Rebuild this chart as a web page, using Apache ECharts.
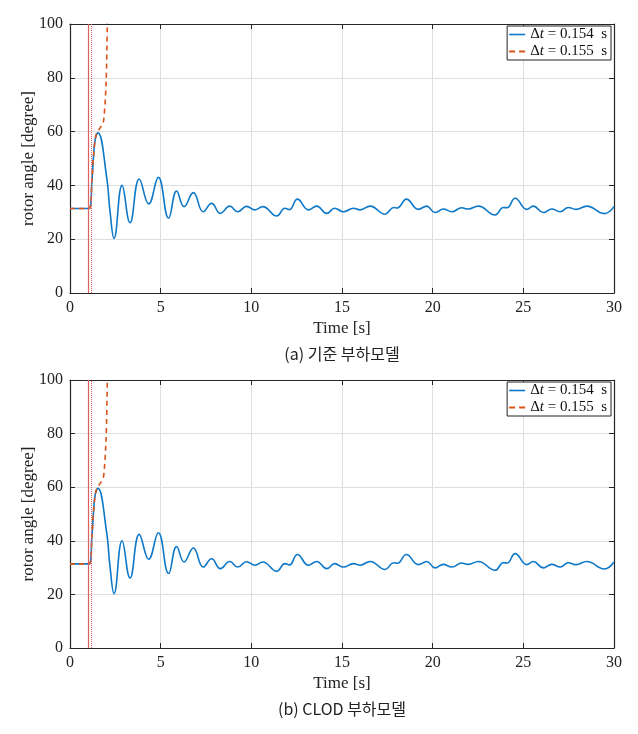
<!DOCTYPE html>
<html>
<head>
<meta charset="utf-8">
<script src="https://cdn.jsdelivr.net/npm/echarts@6/dist/echarts.min.js"></script>
<style>
  html, body { margin: 0; padding: 0; background: #fff; }
  #main { width: 638px; height: 734px; }
</style>
</head>
<body>
<div id="main"></div>
<script>
    var myChart = echarts.init(document.getElementById('main'));

    // 시간축 / 각도축 범위
    var xRange = [0, 30, 5];
    var yRange = [0, 100, 20];

    // 고장 발생 / 제거 시각
    var faultTimes = [1.0, 1.154];

    // dt = 0.154 s (안정)
    var stableT = [0, 1.06, 1.21, 1.31, 1.40, 1.54, 2.02, 2.2, 2.43, 2.87, 3.31, 3.82, 4.34, 4.87, 5.44, 5.88,
        6.29, 6.80, 7.35, 7.81, 8.29, 8.81, 9.25, 9.74, 10.2, 10.63, 11.4, 11.85, 12.1, 12.54, 13.15,
        13.6, 14.16, 14.6, 15.08, 15.63, 16.0, 16.55, 17.37, 17.85, 18.05, 18.55, 19.21, 19.67, 20.13,
        20.59, 21.05, 21.6, 21.95, 22.52, 23.44, 23.9, 24.1, 24.55, 25.19, 25.55, 26.1, 26.57, 27.03,
        27.48, 27.9, 28.5, 29.47, 30];
    var stableAngle = [31.4, 31.4, 42, 52, 57.5, 59.6, 43.2, 30.8, 20.3, 40.0, 26.1, 42.4, 33.1, 43.0, 27.8, 37.9,
        32.1, 37.3, 30.2, 33.3, 29.6, 32.3, 30.2, 32.2, 30.9, 32.1, 28.6, 31.5, 31.0, 34.9, 30.9,
        32.3, 29.6, 31.5, 30.2, 31.5, 30.9, 32.3, 29.3, 31.8, 31.6, 34.9, 31.1, 32.3, 29.9,
        31.2, 30.2, 31.7, 31.2, 32.3, 29.0, 31.8, 31.7, 35.2, 31.1, 32.3, 29.9, 31.2, 30.2,
        31.8, 31.1, 32.3, 29.5, 32.1];

    // dt = 0.155 s (탈조)
    var unstableT = [0, 1.06, 1.21, 1.31, 1.40, 1.5, 1.58, 1.76, 1.86, 1.99, 2.06, 2.1];
    var unstableAngle = [31.4, 31.4, 42, 52, 57.5, 60.0, 60.6, 62.5, 64.3, 78, 100, 112];

    var captions = ['(a) 기준 부하모델', '(b) CLOD 부하모델'];
    var names = ['0.154', '0.155'];

    function pairs(xs, ys) {
        return xs.map(function (x, i) { return [x, ys[i]]; });
    }

    var serif = 'Liberation Serif';
    var axisColor = '#262626';
    var blue = '#0d78c8';
    var orange = '#D95319';

    // 패널 위치
    var panels = [{ top: 24, height: 269 }, { top: 380, height: 268 }];

    var grids = [], xAxes = [], yAxes = [], series = [], legends = [], graphics = [];

    panels.forEach(function (p, k) {
        grids.push({ left: 70, width: 544, top: p.top, height: p.height });
        // 아래쪽 x축
        xAxes.push({
            gridIndex: k, type: 'value', min: xRange[0], max: xRange[1], interval: xRange[2],
            name: 'Time [s]', nameLocation: 'middle', nameGap: 27, nameMoveOverlap: false,
            nameTextStyle: { fontFamily: serif, fontSize: 17, color: '#222' },
            axisLine: { show: true, onZero: false, lineStyle: { color: axisColor, width: 1.2 } },
            axisTick: { inside: true, length: 5, lineStyle: { color: axisColor } },
            axisLabel: { fontFamily: serif, fontSize: 16, color: '#222', margin: 7 },
            splitLine: { show: true, lineStyle: { color: '#dedede', width: 1 } }
        });
        // 위쪽 x축 (박스)
        xAxes.push({
            gridIndex: k, type: 'value', position: 'top', min: xRange[0], max: xRange[1], interval: xRange[2],
            axisLine: { show: true, onZero: false, lineStyle: { color: axisColor, width: 1.2 } },
            axisTick: { inside: true, length: 5, lineStyle: { color: axisColor } },
            axisLabel: { show: false }, splitLine: { show: false }
        });
        yAxes.push({
            gridIndex: k, type: 'value', min: yRange[0], max: yRange[1], interval: yRange[2],
            name: 'rotor angle [degree]', nameLocation: 'middle', nameGap: 33, nameRotate: 90,
            nameMoveOverlap: false,
            nameTextStyle: { fontFamily: serif, fontSize: 17, color: '#222' },
            axisLine: { show: true, onZero: false, lineStyle: { color: axisColor, width: 1.2 } },
            axisTick: { inside: true, length: 5, lineStyle: { color: axisColor } },
            axisLabel: { fontFamily: serif, fontSize: 16, color: '#222', margin: 7 },
            splitLine: { show: true, lineStyle: { color: '#dedede', width: 1 } }
        });
        yAxes.push({
            gridIndex: k, type: 'value', position: 'right', min: yRange[0], max: yRange[1], interval: yRange[2],
            axisLine: { show: true, onZero: false, lineStyle: { color: axisColor, width: 1.2 } },
            axisTick: { inside: true, length: 5, lineStyle: { color: axisColor } },
            axisLabel: { show: false }, splitLine: { show: false }
        });

        series.push({
            name: names[0], type: 'line', xAxisIndex: 2 * k, yAxisIndex: 2 * k,
            data: pairs(stableT, stableAngle), showSymbol: false, symbol: 'none',
            smooth: 0.45, clip: true,
            lineStyle: { color: blue, width: 1.6 }, itemStyle: { color: blue },
            markLine: {
                silent: true, symbol: 'none', label: { show: false },
                data: [
                    { xAxis: faultTimes[0], lineStyle: { type: 'solid', color: '#e06060', width: 1.2 } },
                    { xAxis: faultTimes[1], lineStyle: { type: 'dotted', color: '#e06060', width: 1 } }
                ]
            },
            z: 3
        });
        series.push({
            name: names[1], type: 'line', xAxisIndex: 2 * k, yAxisIndex: 2 * k,
            data: pairs(unstableT, unstableAngle), showSymbol: false, symbol: 'none',
            smooth: 0.3, clip: true,
            lineStyle: { color: orange, width: 1.6, type: [5, 4] }, itemStyle: { color: orange },
            z: 4
        });

        legends.push({
            data: [
                { name: names[0], icon: 'path://M0,0h20v2h-20z' },
                { name: names[1], icon: 'path://M0,0h6v2h-6zM10,0h6v2h-6z' }
            ],
            right: 27, top: p.top + 2, orient: 'vertical',
            backgroundColor: '#fff', borderColor: '#222', borderWidth: 1,
            padding: [1, 4, 1, 2], itemGap: 2, itemWidth: 16, itemHeight: 2,
            selectedMode: false,
            formatter: function (n) {
                return '{d|Δ}{i|t}{n| = ' + n + '  s}';
            },
            textStyle: {
                fontFamily: serif, fontSize: 15, color: '#111',
                rich: {
                    d: { fontFamily: serif, fontSize: 15 },
                    i: { fontFamily: serif, fontSize: 15, fontStyle: 'italic' },
                    n: { fontFamily: serif, fontSize: 15 }
                }
            }
        });

        // 캡션 (그래프 중앙 x=342)
        graphics.push({
            type: 'text', x: 342, y: p.top + p.height + 61,
            style: {
                text: captions[k], align: 'center', verticalAlign: 'middle',
                fontFamily: 'Noto Sans CJK KR', fontSize: 16, fill: '#222'
            }
        });
    });

    var option = {
        backgroundColor: '#fff',
        animation: false,
        grid: grids,
        xAxis: xAxes,
        yAxis: yAxes,
        legend: legends,
        series: series,
        graphic: graphics
    };

    myChart.setOption(option);
</script>
</body>
</html>
